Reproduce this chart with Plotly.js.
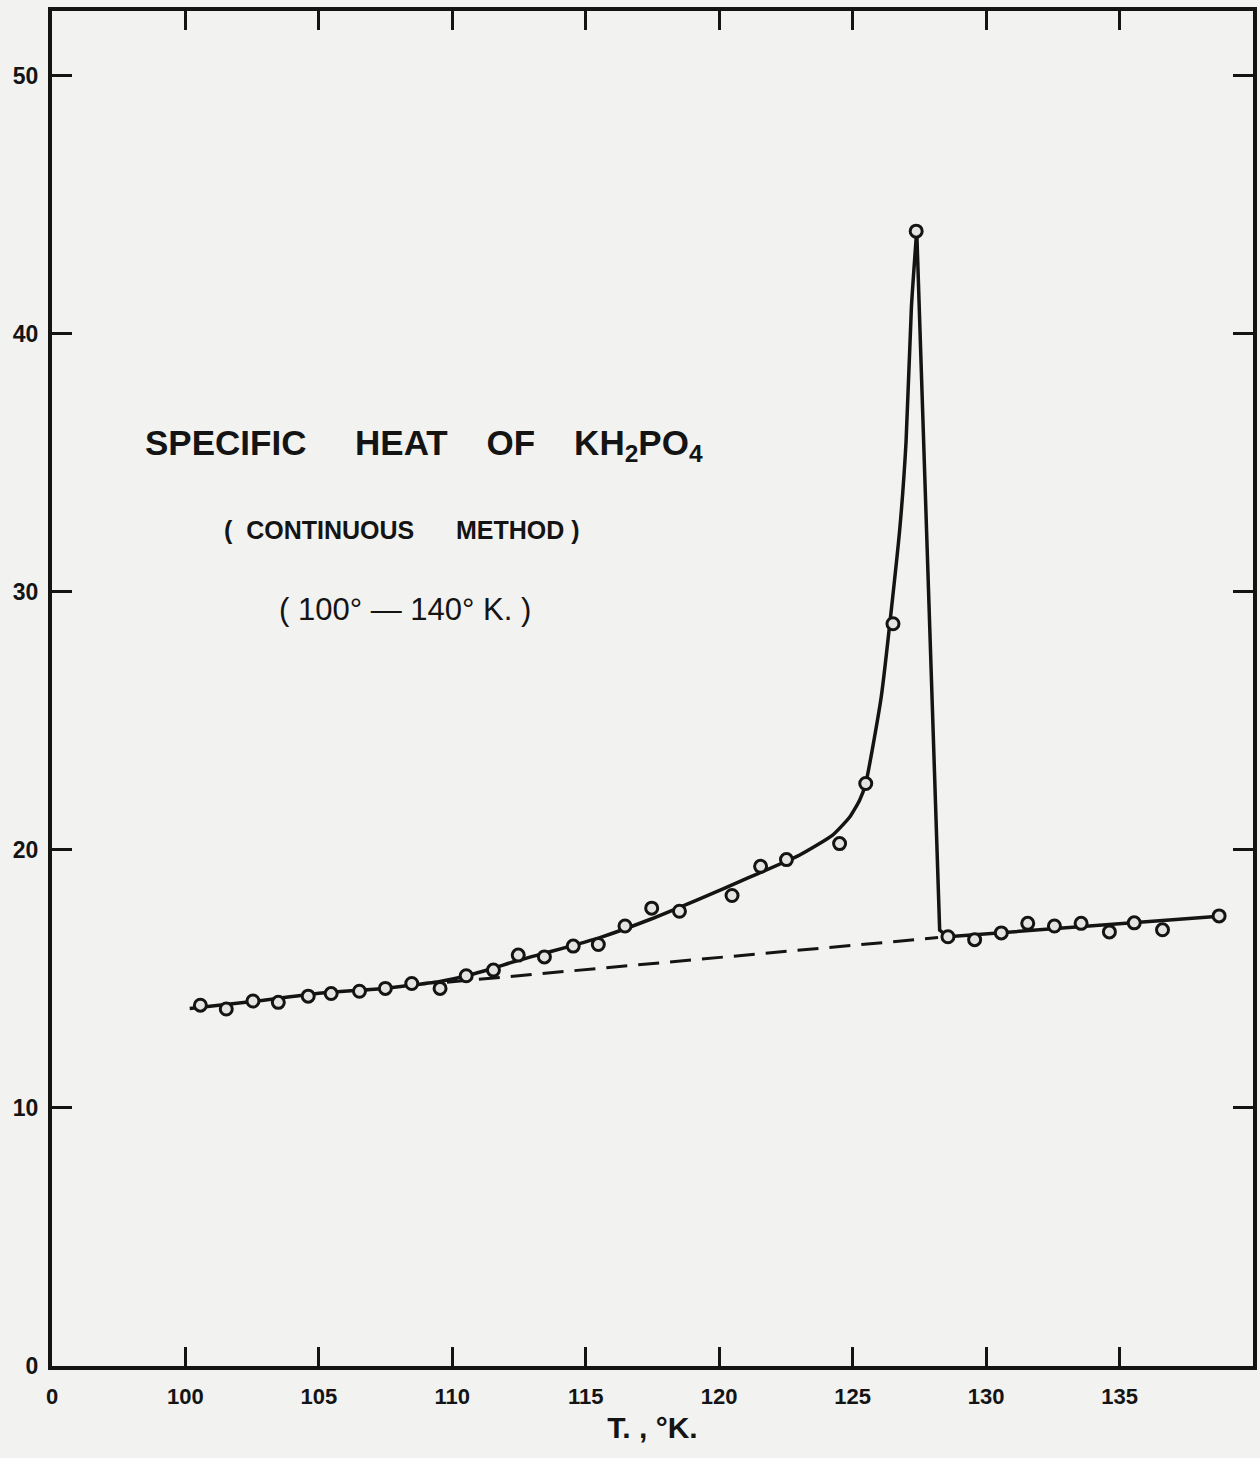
<!DOCTYPE html>
<html>
<head>
<meta charset="utf-8">
<script src="https://cdn.plot.ly/plotly-3.0.1.min.js"></script>
<style>
  html, body { margin: 0; padding: 0; background: #f2f2f0; }
  #chart { width: 1260px; height: 1458px; }
</style>
</head>
<body>
<div id="chart"></div>
<script>
// Measured specific heat points (T in K, C in cal/mole-deg)
const measuredT = [100.56, 101.53, 102.53, 103.48, 104.6, 105.46, 106.52, 107.49, 108.48, 109.54,
                   110.52, 111.54, 112.47, 113.45, 114.53, 115.47, 116.47, 117.47, 118.51, 120.48,
                   121.55, 122.52, 124.51, 125.49, 126.51, 127.38, 128.57, 129.57, 130.57, 131.56,
                   132.56, 133.56, 134.62, 135.55, 136.61, 138.73];
const measuredC = [13.98, 13.83, 14.14, 14.09, 14.33, 14.43, 14.52, 14.63, 14.82, 14.63,
                   15.12, 15.34, 15.92, 15.85, 16.27, 16.33, 17.05, 17.74, 17.62, 18.23,
                   19.36, 19.62, 20.24, 22.57, 28.76, 43.97, 16.63, 16.52, 16.78, 17.15,
                   17.05, 17.15, 16.82, 17.17, 16.9, 17.44];

// Hand-drawn smooth curve below the transition, up to the peak
const riseT = [100.16, 102.43, 104.93, 107.42, 108.5, 109.54, 110.54, 111.5, 112.41, 113.66,
               115.53, 117.4, 119.27, 121.1, 123.0, 124.25, 124.89, 125.26, 125.49, 126.07,
               126.76, 127.0, 127.2, 127.4];
const riseC = [13.85, 14.11, 14.43, 14.63, 14.76, 14.9, 15.12, 15.4, 15.7, 16.05,
               16.6, 17.3, 18.1, 18.92, 19.79, 20.57, 21.27, 21.92, 22.58, 25.92,
               32.38, 35.8, 41.0, 44.0];

// Straight drop from the peak and the line above the transition
const dropT = [127.4, 128.26, 128.57, 133.0, 138.73];
const dropC = [44.0, 16.89, 16.63, 16.97, 17.43];

// Dashed normal (lattice) background line
const baseT = [109.8, 128.2];
const baseC = [14.87, 16.6];

// Axis ticks (axis is broken: "0" drawn one interval left of 100)
const xTickVals = [95, 100, 105, 110, 115, 120, 125, 130, 135];
const xTickText = ["0", "100", "105", "110", "115", "120", "125", "130", "135"];
const yTickVals = [0, 10, 20, 30, 40, 50];

const ink = '#141414';
const NB = '\u00A0';

const traces = [
  {
    x: baseT, y: baseC, type: 'scatter', mode: 'lines',
    line: { color: ink, width: 3, dash: '21px,11px' },
    hoverinfo: 'skip', showlegend: false
  },
  {
    x: riseT, y: riseC, type: 'scatter', mode: 'lines',
    line: { color: ink, width: 3.5, shape: 'spline', smoothing: 0.5 },
    hoverinfo: 'skip', showlegend: false
  },
  {
    x: dropT, y: dropC, type: 'scatter', mode: 'lines',
    line: { color: ink, width: 3.5, shape: 'linear' },
    hoverinfo: 'skip', showlegend: false
  },
  {
    x: measuredT, y: measuredC, type: 'scatter', mode: 'markers',
    marker: { symbol: 'circle', size: 12, color: '#e4e4e2', line: { color: ink, width: 3 } },
    showlegend: false
  }
];

const layout = {
  width: 1260, height: 1458,
  margin: { l: 52, r: 7, t: 11, b: 92 },
  paper_bgcolor: '#f2f2f0',
  plot_bgcolor: '#f2f2f0',
  font: { family: 'Liberation Sans, Arial, sans-serif', color: ink },
  showlegend: false,
  xaxis: {
    range: [95, 140],
    tickmode: 'array', tickvals: xTickVals, ticktext: xTickText,
    ticks: 'inside', ticklen: 19, tickwidth: 3, tickcolor: ink,
    showline: true, linewidth: 4, linecolor: ink, mirror: 'ticks',
    showgrid: false, zeroline: false,
    tickfont: { size: 22, weight: 'bold', color: ink },
    ticklabelstandoff: 8,
    title: { text: 'T. , °K.', font: { size: 30, weight: 'bold', color: ink }, standoff: 10 }
  },
  yaxis: {
    range: [0, 52.5],
    tickmode: 'array', tickvals: yTickVals,
    ticks: 'inside', ticklen: 20, tickwidth: 3, tickcolor: ink,
    showline: true, linewidth: 4, linecolor: ink, mirror: 'ticks',
    showgrid: false, zeroline: false,
    tickfont: { size: 23, weight: 'bold', color: ink },
    ticklabelstandoff: 5
  },
  annotations: [
    {
      xref: 'paper', yref: 'paper', x: 0.0758, y: 0.6797, xanchor: 'left', yanchor: 'middle',
      showarrow: false,
      text: 'SPECIFIC' + NB.repeat(5) + 'HEAT' + NB.repeat(4) + 'OF' + NB.repeat(4) + 'KH<sub>2</sub>PO<sub>4</sub>',
      font: { size: 35, weight: 'bold', color: ink }
    },
    {
      xref: 'paper', yref: 'paper', x: 0.1415, y: 0.617, xanchor: 'left', yanchor: 'middle',
      showarrow: false,
      text: '(' + NB.repeat(2) + 'CONTINUOUS' + NB.repeat(6) + 'METHOD' + NB + ')',
      font: { size: 25, weight: 'bold', color: ink }
    },
    {
      xref: 'paper', yref: 'paper', x: 0.1873, y: 0.558, xanchor: 'left', yanchor: 'middle',
      showarrow: false,
      text: '(' + NB + '100°' + NB + '—' + NB + '140°' + NB + 'K.' + NB + ')',
      font: { size: 31, color: ink }
    }
  ]
};

Plotly.newPlot('chart', traces, layout, { displayModeBar: false, staticPlot: true });
</script>
</body>
</html>
